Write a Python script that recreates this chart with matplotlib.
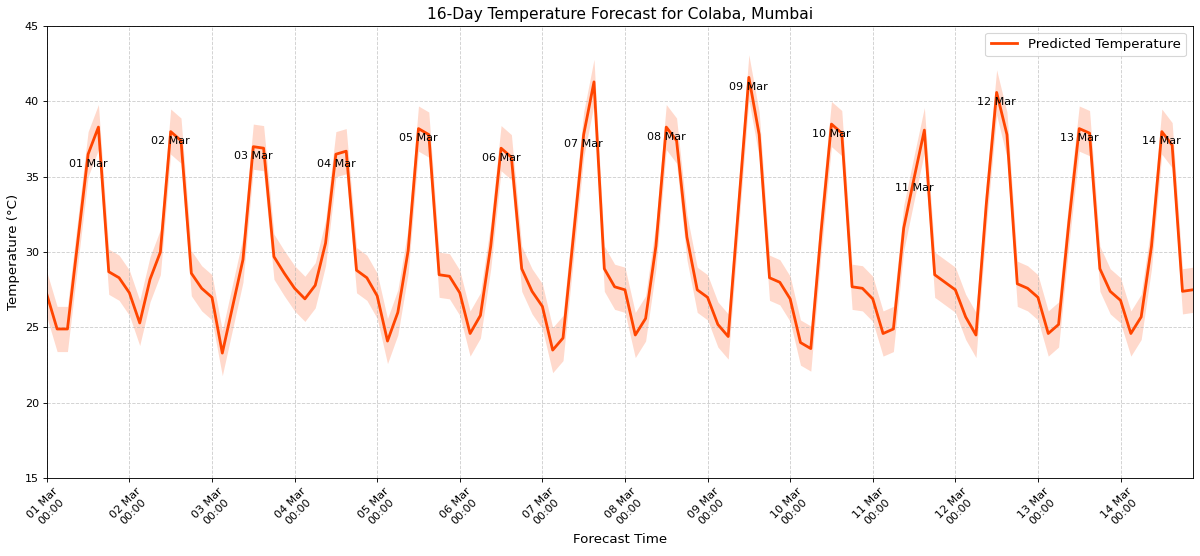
import matplotlib
matplotlib.use("Agg")
import matplotlib.pyplot as plt
import matplotlib.dates as mdates
import pandas as pd

# 3-hourly forecast, 01 Mar 00:00 .. 14 Mar 21:00
start_time = "2025-03-01 00:00"
n_points = 112

temps = [
    27.2, 24.9, 24.9, 30.7, 36.5, 38.3, 28.7, 28.3,   # 01 Mar
    27.3, 25.3, 28.2, 30.0, 38.0, 37.4, 28.6, 27.6,   # 02 Mar
    27.0, 23.3, 26.4, 29.5, 37.0, 36.9, 29.7, 28.6,   # 03 Mar
    27.6, 26.9, 27.8, 30.6, 36.5, 36.7, 28.8, 28.3,   # 04 Mar
    27.1, 24.1, 26.0, 30.1, 38.2, 37.8, 28.5, 28.4,   # 05 Mar
    27.3, 24.6, 25.8, 30.4, 36.9, 36.3, 28.9, 27.4,   # 06 Mar
    26.4, 23.5, 24.3, 31.0, 37.8, 41.3, 28.9, 27.7,   # 07 Mar
    27.5, 24.5, 25.6, 30.4, 38.3, 37.4, 31.0, 27.5,   # 08 Mar
    27.0, 25.2, 24.4, 33.0, 41.6, 37.8, 28.3, 28.0,   # 09 Mar
    26.9, 24.0, 23.6, 31.4, 38.5, 37.9, 27.7, 27.6,   # 10 Mar
    26.9, 24.6, 24.9, 31.6, 34.9, 38.1, 28.5, 28.0,   # 11 Mar
    27.5, 25.7, 24.5, 33.2, 40.6, 37.8, 27.9, 27.6,   # 12 Mar
    27.0, 24.6, 25.2, 32.0, 38.2, 37.9, 28.9, 27.4,   # 13 Mar
    26.8, 24.6, 25.7, 30.4, 38.0, 37.1, 27.4, 27.5,   # 14 Mar
]
# half-width of the shaded interval, deg C
ci_half = 1.5

times = pd.date_range(start_time, periods=n_points, freq="3h")
df = pd.DataFrame({"time": times, "temp": temps})
df["lower"] = df["temp"] - ci_half
df["upper"] = df["temp"] + ci_half

fig, ax = plt.subplots(figsize=(15, 6.95), dpi=80)
fig.subplots_adjust(left=0.039, right=0.994, top=0.953, bottom=0.14)

color = "#FF4500"
ax.plot(df["time"], df["temp"], color=color, linewidth=2.5, label="Predicted Temperature")
ax.fill_between(df["time"], df["lower"], df["upper"], color=color, alpha=0.2, linewidth=0)

# label each day at its 12:00 value
noon = df[df["time"].dt.hour == 12]
for t, v in zip(noon["time"], noon["temp"]):
    ax.annotate(t.strftime("%d %b"), (t, v), xytext=(0, -4), textcoords="offset points",
                ha="center", va="top", fontsize=10)

ax.set_xlim(df["time"].iloc[0], df["time"].iloc[-1])
ax.set_ylim(15, 45)
ax.xaxis.set_major_locator(mdates.DayLocator())
ax.xaxis.set_major_formatter(mdates.DateFormatter("%d %b\n%H:%M"))
plt.setp(ax.get_xticklabels(), rotation=45)

ax.set_title("16-Day Temperature Forecast for Colaba, Mumbai", fontsize=14)
ax.set_xlabel("Forecast Time", fontsize=12)
ax.set_ylabel("Temperature (°C)", fontsize=12)
ax.grid(True, linestyle="--", alpha=0.6)
ax.legend(loc="upper right", fontsize=12)

fig.savefig("out.png")
